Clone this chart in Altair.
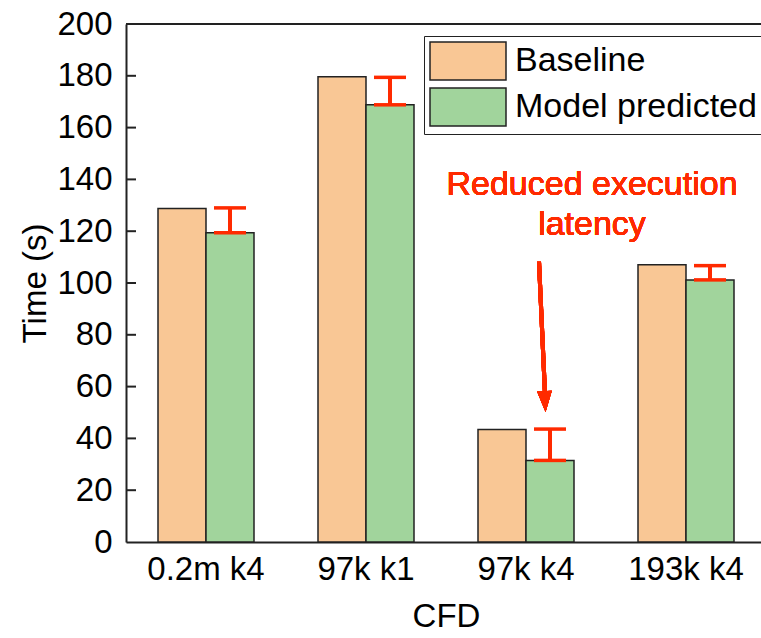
import altair as alt
import pandas as pd

# ---- data ----
categories = ["0.2m k4", "97k k1", "97k k4", "193k k4"]
series = ["Baseline", "Model predicted"]
baseline_vals = [128.8, 179.6, 43.4, 107.0]
model_vals = [119.4, 168.8, 31.5, 101.2]
err_low = [119.4, 168.8, 31.5, 101.2]
err_high = [129.0, 179.4, 43.6, 106.7]
y_tick_values = [0, 20, 40, 60, 80, 100, 120, 140, 160, 180, 200]
inner_ticks = [20, 40, 60, 80, 100, 120, 140, 160, 180]
annotation_text = "Reduced execution\nlatency"
annotation_cat = "97k k4"

bar_colors = ["#F9C795", "#A1D49C"]
red = "#FF2A00"
edge = "#222222"
FONT = "Liberation Sans"

rows = []
for c, b, m in zip(categories, baseline_vals, model_vals):
    rows.append({"cat": c, "series": series[0], "value": b})
    rows.append({"cat": c, "series": series[1], "value": m})
df = pd.DataFrame(rows)

err_df = pd.DataFrame({"cat": categories, "series": series[1],
                       "low": err_low, "high": err_high})
cap_df = pd.concat([
    pd.DataFrame({"cat": categories, "series": series[1], "v": err_low}),
    pd.DataFrame({"cat": categories, "series": series[1], "v": err_high}),
])
tick_df = pd.DataFrame({"t": inner_ticks})

W, H = 635, 518

x_scale = alt.Scale(domain=categories, range=[0, 640], paddingInner=0.4, paddingOuter=0.2)
xo_scale = alt.Scale(domain=series, paddingInner=0, paddingOuter=0)
y_scale = alt.Scale(domain=[0, 200], nice=False)

x_axis = alt.Axis(title="CFD", ticks=False, tickSize=0, labelFontSize=33, labelPadding=11,
                  labelAngle=0, domainColor=edge, domainWidth=2, titleFontSize=33,
                  titleFontWeight="normal", titleX=320, titleY=84, titleBaseline="alphabetic",
                  labelColor="#000", titleColor="#000", grid=False)
y_axis = alt.Axis(title="Time (s)", values=y_tick_values, ticks=False, tickSize=0,
                  labelFontSize=33, labelPadding=14, domainColor=edge, domainWidth=2,
                  titleFontSize=33, titleFontWeight="normal", titleAngle=270,
                  titleX=-81, titleY=259, titleAlign="center", titleBaseline="alphabetic",
                  labelColor="#000", titleColor="#000", grid=False)

bars = alt.Chart(df).mark_bar(stroke=edge, strokeWidth=1.5, opacity=1).encode(
    x=alt.X("cat:N", scale=x_scale, sort=categories, axis=x_axis),
    xOffset=alt.XOffset("series:N", scale=xo_scale, sort=series),
    y=alt.Y("value:Q", scale=y_scale, axis=y_axis),
    color=alt.Color("series:N", sort=series,
                    scale=alt.Scale(domain=series, range=bar_colors),
                    legend=alt.Legend(title=None, orient="none", legendX=298, legendY=12,
                                      symbolType="M-1,-1L3,-1L3,1L-1,1Z", symbolSize=1444,
                                      symbolStrokeColor=edge, symbolStrokeWidth=1.5,
                                      symbolOpacity=1, labelFontSize=34, labelOffset=46,
                                      labelLimit=500, labelColor="#000", padding=5,
                                      rowPadding=2, strokeColor=edge, fillColor="white")),
)

err_rule = alt.Chart(err_df).mark_rule(color=red, strokeWidth=4).encode(
    x=alt.X("cat:N", scale=x_scale, sort=categories),
    xOffset=alt.XOffset("series:N", scale=xo_scale, sort=series),
    y=alt.Y("low:Q", scale=y_scale),
    y2="high:Q",
)
err_caps = alt.Chart(cap_df).mark_tick(color=red, thickness=3.5, size=32, orient="horizontal", opacity=1).encode(
    x=alt.X("cat:N", scale=x_scale, sort=categories),
    xOffset=alt.XOffset("series:N", scale=xo_scale, sort=series),
    y=alt.Y("v:Q", scale=y_scale),
)

inner = alt.Chart(tick_df).mark_rule(color=edge, strokeWidth=2).encode(
    y=alt.Y("t:Q", scale=y_scale), x=alt.value(0), x2=alt.value(10)
)
top_border = alt.Chart(tick_df).mark_rule(color=edge, strokeWidth=2).encode(
    y=alt.datum(200), x=alt.value(0), x2=alt.value(W)
)

note = alt.Chart(tick_df).mark_text(align="center", baseline="alphabetic", fontSize=34,
                                    color=red, lineBreak="\n", lineHeight=40, dx=66).encode(
    x=alt.datum(annotation_cat), y=alt.datum(134), text=alt.value(annotation_text)
)
arrow_line = alt.Chart(tick_df).mark_rule(color=red, strokeWidth=4, xOffset=13, x2Offset=19).encode(
    x=alt.datum(annotation_cat), x2=alt.datum(annotation_cat),
    y=alt.datum(108.2), y2=alt.datum(57)
)
arrow_head = alt.Chart(tick_df).mark_point(shape="M-0.7,-1L0.7,-1L0,1Z", size=441, filled=True,
                                           color=red, opacity=1, angle=357, xOffset=19).encode(
    x=alt.datum(annotation_cat), y=alt.datum(54.2)
)

chart = alt.layer(bars, err_rule, err_caps, inner, top_border, note, arrow_line, arrow_head).properties(
    width=W, height=H,
    autosize=alt.AutoSizeParams(type="none"),
    padding={"left": 126, "top": 24, "right": 0, "bottom": 96},
    background="white",
).configure_view(stroke=None).configure(font=FONT)

chart.save("out.html", embed_options={"renderer": "svg", "actions": False})
